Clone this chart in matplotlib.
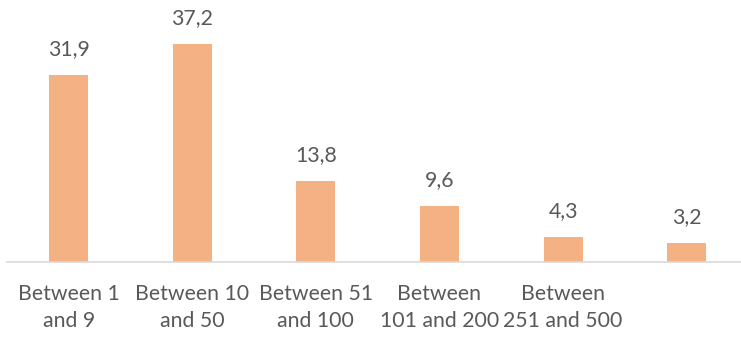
import matplotlib
matplotlib.use("Agg")
import matplotlib.pyplot as plt

categories = ["Between 1\nand 9", "Between 10\nand 50", "Between 51\nand 100",
              "Between\n101 and 200", "Between\n251 and 500", ""]
values = [31.9, 37.2, 13.8, 9.6, 4.3, 3.2]
value_labels = ["31,9", "37,2", "13,8", "9,6", "4,3", "3,2"]

plt.rcParams["font.family"] = ["Lato", "DejaVu Sans"]

W, H = 741, 337
fig = plt.figure(figsize=(W / 100, H / 100), dpi=100)
base_px = 262
left_px = 7
ax = fig.add_axes([left_px / W, (H - base_px) / H, (W - left_px) / W, base_px / H])

x = list(range(len(values)))
ax.bar(x, values, width=0.315, color="#F4B183")
ax.set_xlim(-0.5, 5.44)
ax.set_ylim(0, 44.7)

text_color = "#595959"
for xi, v, lab in zip(x, values, value_labels):
    ax.annotate(lab, (xi, v), xytext=(0, 18.5), textcoords="offset points",
                ha="center", va="center", fontsize=15.3, color=text_color)

ax.set_xticks(x)
ax.set_xticklabels(categories, fontsize=15.3, color=text_color, linespacing=1.42)
ax.tick_params(axis="x", length=0, pad=16)
ax.set_yticks([])
for s in ["top", "right", "left"]:
    ax.spines[s].set_visible(False)
ax.spines["bottom"].set_color("#D9D9D9")
ax.spines["bottom"].set_linewidth(1.2)

fig.savefig("out.png", dpi=100)
